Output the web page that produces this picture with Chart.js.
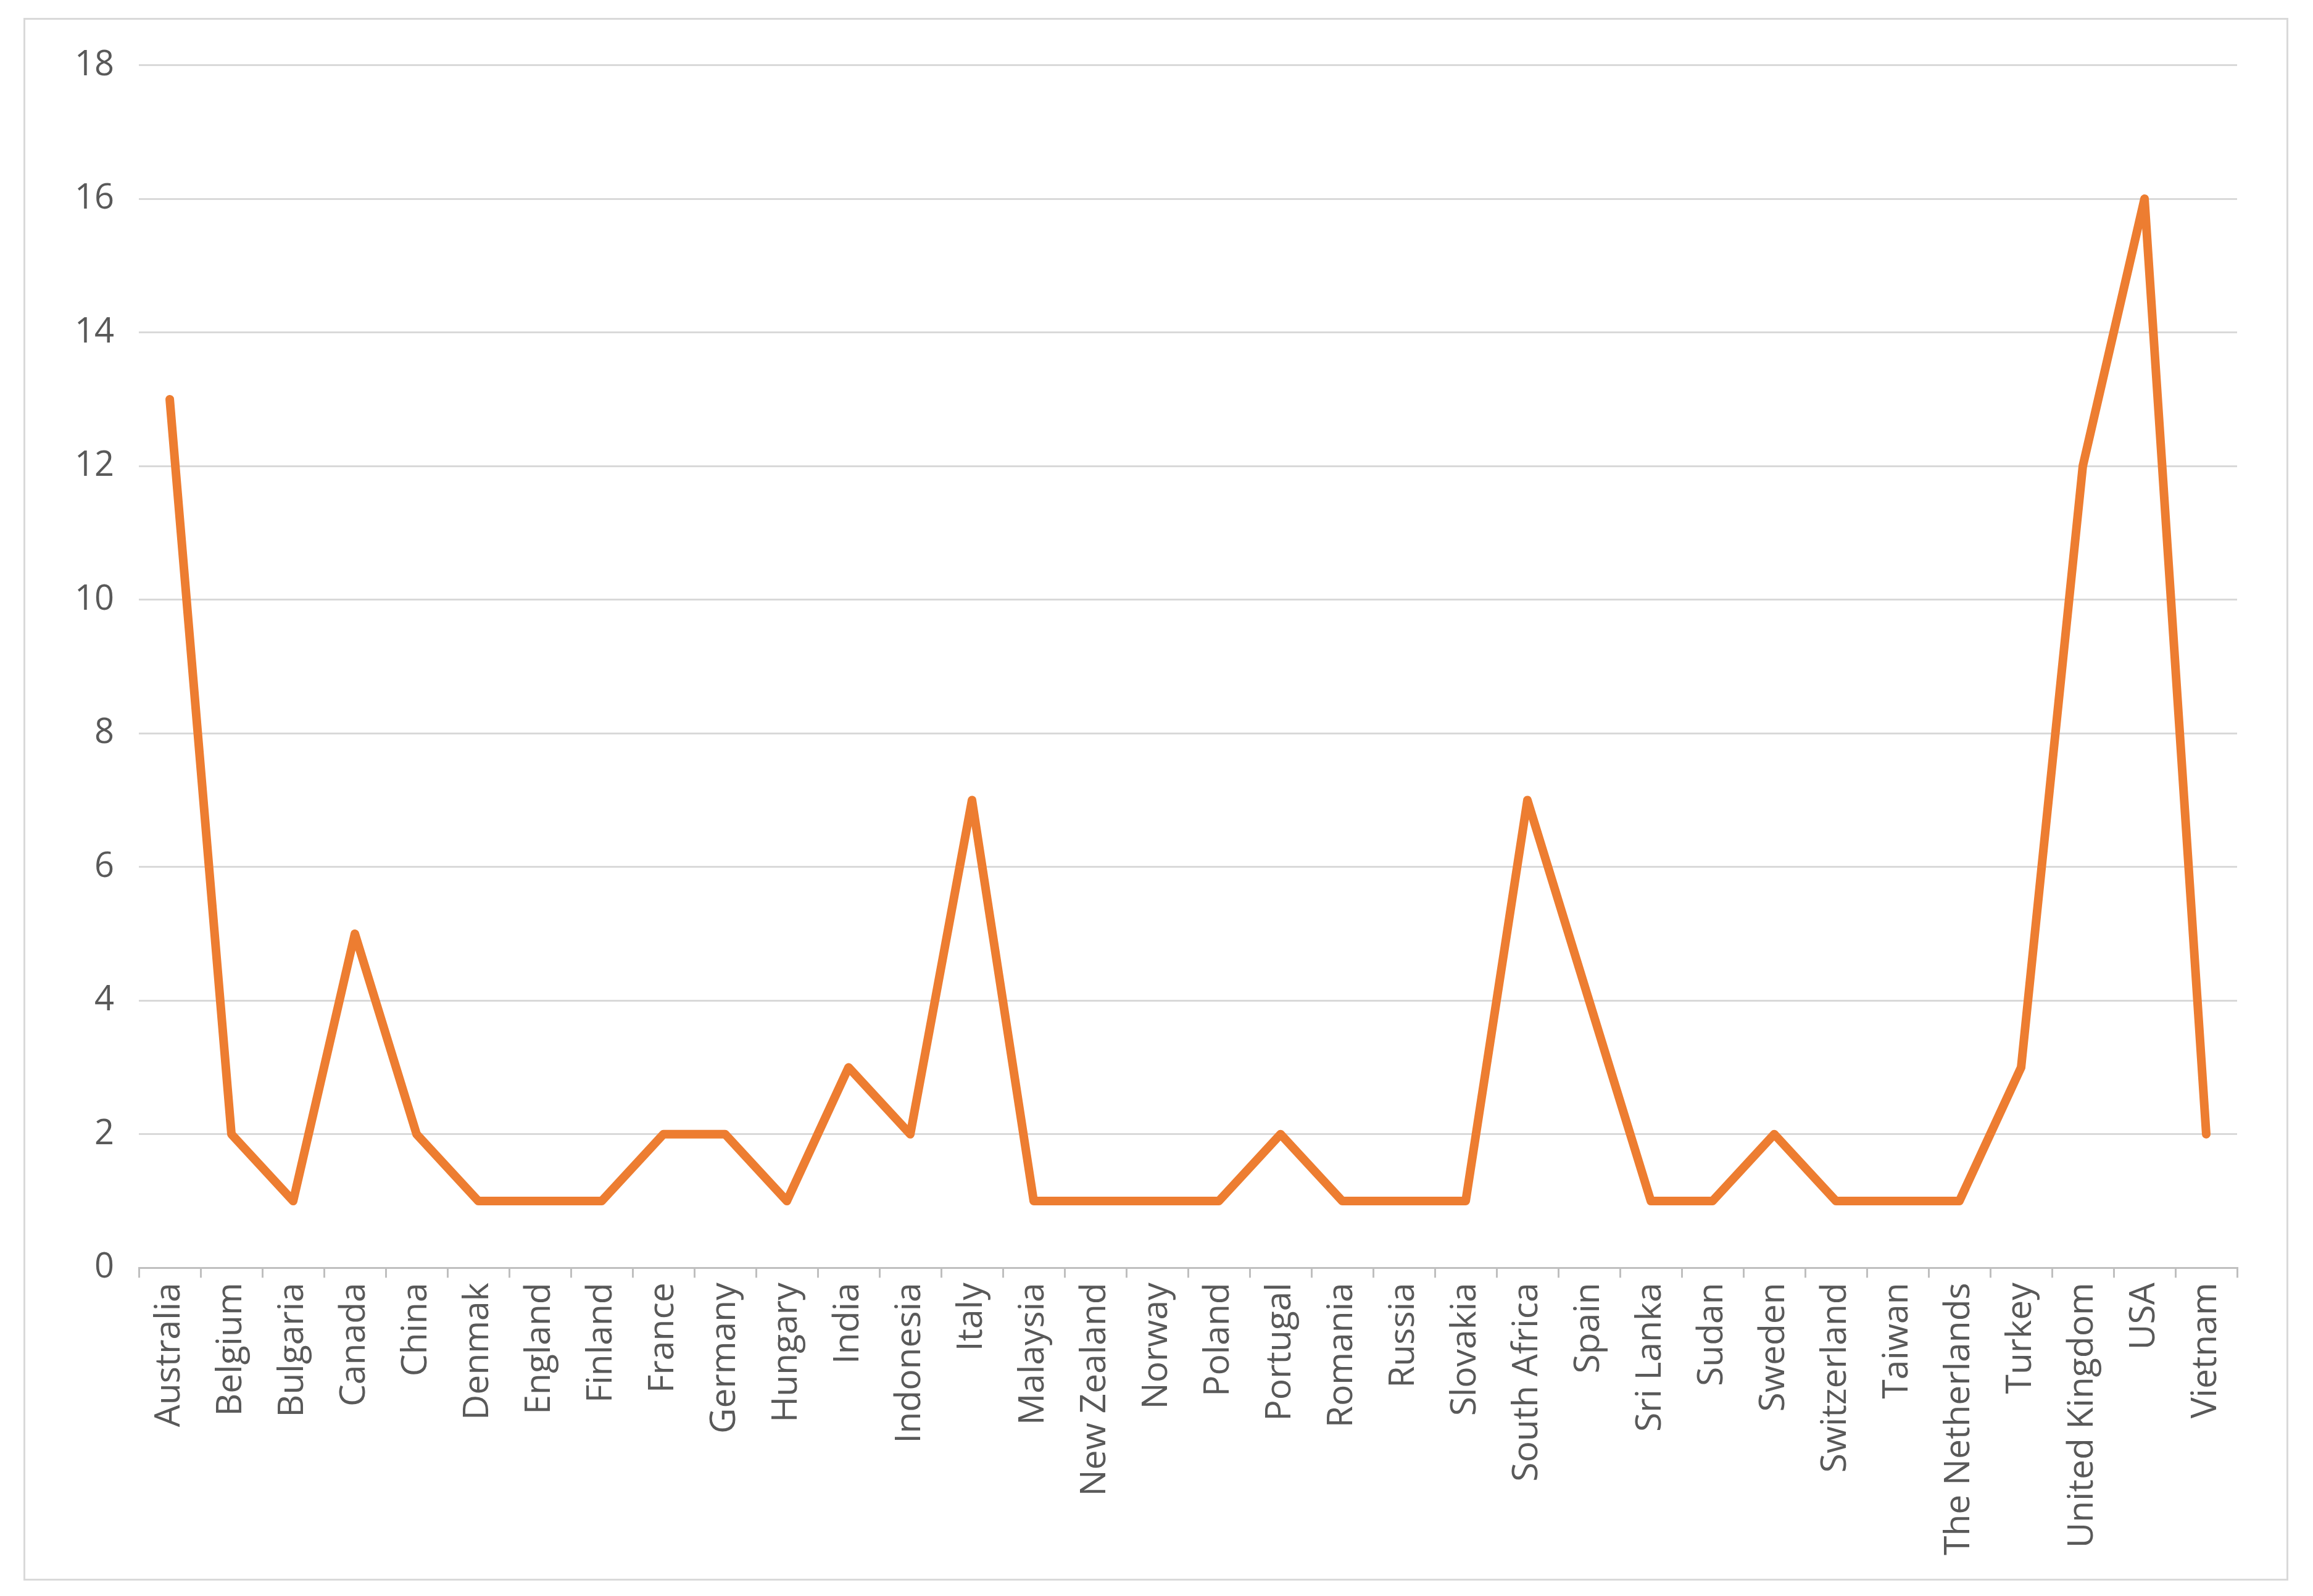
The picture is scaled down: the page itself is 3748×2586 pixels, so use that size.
<!DOCTYPE html>
<html>
<head>
<meta charset="utf-8">
<script src="https://cdn.jsdelivr.net/npm/chart.js@4"></script>
<style>
  html, body { margin: 0; padding: 0; background: #fff; }
  #frame { position: absolute; left: 38px; top: 29px; width: 3670px; height: 2532px; border: 3px solid #d9d9d9; box-sizing: border-box; }
  canvas { display: block; }
</style>
</head>
<body>
<div id="frame"><canvas id="chart"></canvas></div>
<script>
const countries = ['Australia','Belgium','Bulgaria','Canada','China','Denmak','England','Finland','France','Germany','Hungary','India','Indonesia','Italy','Malaysia','New Zealand','Norway','Poland','Portugal','Romania','Russia','Slovakia','South Africa','Spain','Sri Lanka','Sudan','Sweden','Switzerland','Taiwan','The Netherlands','Turkey','United Kingdom','USA','Vietnam'];
const counts = [13,2,1,5,2,1,1,1,2,2,1,3,2,7,1,1,1,1,2,1,1,1,7,4,1,1,2,1,1,1,3,12,16,2];
const yTicks = { min: 0, max: 18, step: 2 };

const canvas = document.getElementById('chart');
canvas.width = 3664; canvas.height = 2526;
canvas.style.width = '3664px'; canvas.style.height = '2526px';

new Chart(canvas.getContext('2d'), {
  type: 'line',
  data: {
    labels: countries,
    datasets: [{
      label: 'Count',
      data: counts,
      borderColor: '#ED7D31',
      borderWidth: 14,
      borderCapStyle: 'round',
      borderJoinStyle: 'round',
      pointRadius: 0,
      tension: 0,
      fill: false
    }]
  },
  options: {
    responsive: false,
    animation: false,
    devicePixelRatio: 1,
    layout: { padding: { left: 40, right: 80, top: 50, bottom: 30 } },
    plugins: { legend: { display: false }, tooltip: { enabled: false } },
    scales: {
      x: {
        offset: true,
        grid: { offset: true, drawOnChartArea: false, color: '#bfbfbf', lineWidth: 3, tickLength: 16 },
        border: { color: '#bfbfbf', width: 3 },
        ticks: { color: '#595959', font: { family: 'Open Sans', size: 57 }, minRotation: 90, maxRotation: 90, autoSkip: false, padding: 8 }
      },
      y: {
        min: yTicks.min, max: yTicks.max,
        grid: { color: '#d9d9d9', lineWidth: 3, drawTicks: false },
        border: { display: false },
        ticks: { stepSize: yTicks.step, color: '#595959', font: { family: 'Open Sans', size: 56 }, padding: 40 }
      }
    }
  }
});
</script>
</body>
</html>
